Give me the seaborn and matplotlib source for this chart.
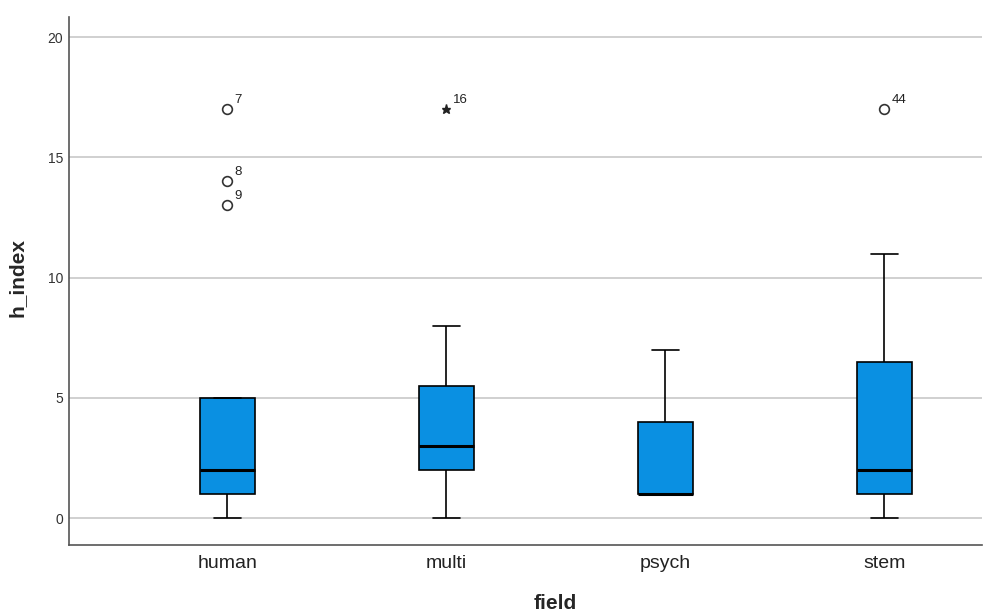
import numpy as np
import pandas as pd
import seaborn as sns
import matplotlib
import matplotlib.pyplot as plt

matplotlib.use("Agg")

# Data in case order (case number = row number, as in the SPSS data view)
FIELDS = ["human", "multi", "psych", "stem"]
human_h = [0, 1, 1, 2, 2, 5, 17, 14, 13, 1, 2, 5, 5]
multi_h = [2, 3, 17, 0, 5, 1, 8, 3, 6, 2, 4]
psych_h = [1, 1, 4, 1, 2, 1, 7, 5, 1]
stem_h = [1, 0, 3, 6, 2, 11, 1, 0, 5, 7, 17, 2, 9, 1, 1]

BOX_BLUE = "#0a90e2"


def build_frame():
    rows = []
    for name, vals in zip(FIELDS, [human_h, multi_h, psych_h, stem_h]):
        for v in vals:
            rows.append((name, v))
    df = pd.DataFrame(rows, columns=["field", "h_index"])
    df["case"] = np.arange(1, len(df) + 1)
    return df


def find_outliers(df):
    out = []
    for i, name in enumerate(FIELDS):
        sub = df[df["field"] == name]
        q1, q3 = np.percentile(sub["h_index"], [25, 75])
        iqr = q3 - q1
        for _, r in sub.iterrows():
            v = r["h_index"]
            if v > q3 + 1.5 * iqr or v < q1 - 1.5 * iqr:
                extreme = v > q3 + 3 * iqr or v < q1 - 3 * iqr
                out.append((i, v, r["case"], extreme))
    return out


df = build_frame()

sns.set_theme(style="white")
plt.rcParams["font.family"] = ["Liberation Sans", "DejaVu Sans"]

fig = plt.figure(figsize=(9.84, 6.13), dpi=100)
ax = fig.add_axes([0.070, 0.111, 0.928, 0.861])

ax.yaxis.grid(True, color="#c8c8c8", linewidth=1.2, zorder=0)
ax.set_axisbelow(True)

sns.boxplot(
    data=df, x="field", y="h_index", order=FIELDS,
    color=BOX_BLUE, saturation=1, width=0.25, showfliers=False,
    linecolor="black", linewidth=1.2,
    medianprops={"color": "black", "linewidth": 2.2},
    ax=ax,
)
for patch in ax.patches:
    patch.set_facecolor(BOX_BLUE)

# SPSS-style outliers: circles for outliers, stars for extremes, labelled by case
for x, v, case, extreme in find_outliers(df):
    if extreme:
        ax.plot(x, v, marker="*", ms=6.5, color="#222222", mec="#222222", zorder=5)
    else:
        ax.plot(x, v, marker="o", ms=7, mfc="white", mec="#333333", mew=1.2, zorder=5)
    ax.annotate(str(case), (x, v), xytext=(5, 4.5), textcoords="offset points",
                fontsize=9.5, color="#222222")

ax.set_xlim(-0.724, 3.446)
ax.set_ylim(-1.12, 20.83)
ax.set_yticks([0, 5, 10, 15, 20])
ax.tick_params(axis="y", labelsize=10, length=0, pad=4, colors="#333333")
ax.tick_params(axis="x", labelsize=14, length=0, pad=7, colors="#222222")

ax.set_xlabel("field", fontsize=15, fontweight="bold")
ax.set_ylabel("h_index", fontsize=15, fontweight="bold")
ax.xaxis.set_label_coords(0.533, -0.093)
ax.yaxis.set_label_coords(-0.046, 0.507)

sns.despine(ax=ax, top=True, right=True)
for side in ["left", "bottom"]:
    ax.spines[side].set_color("#555555")
    ax.spines[side].set_linewidth(1.2)

fig.savefig("out.png", dpi=100)
plt.close(fig)
